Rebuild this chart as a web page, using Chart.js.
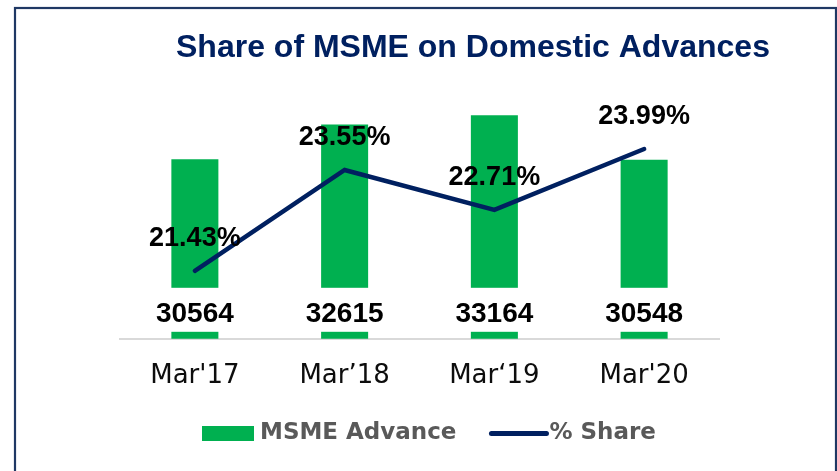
<!DOCTYPE html>
<html>
<head>
<meta charset="utf-8">
<title>Share of MSME on Domestic Advances</title>
<script src="https://cdn.jsdelivr.net/npm/chart.js"></script>
<style>
  html, body { margin: 0; padding: 0; background: #ffffff; }
  .chart-container { position: relative; width: 837px; height: 471px; }
</style>
</head>
<body>
<div class="chart-container">
  <canvas id="chart"></canvas>
</div>
<script>
// chart data
const categories = ["Mar'17", 'Mar\u201918', 'Mar\u201819', "Mar'20"];
const msmeAdvance = [30564, 32615, 33164, 30548];
const shareLabels = ['21.43%', '23.55%', '22.71%', '23.99%'];
const sharePct = [21.43, 23.55, 22.71, 23.99];

const GREEN = '#00B050';
const NAVY = '#002060';

// frame, title and legend drawn around the chart
const decorPlugin = {
  id: 'decor',
  beforeDraw(chart) {
    const ctx = chart.ctx;
    ctx.save();
    ctx.fillStyle = '#ffffff';
    ctx.fillRect(0, 0, chart.width, chart.height);
    ctx.strokeStyle = '#1F3864';
    ctx.lineWidth = 2.2;
    ctx.strokeRect(15, 8, 821, 520);
    ctx.restore();
  },
  afterDraw(chart) {
    const ctx = chart.ctx;
    ctx.save();
    // title
    ctx.fillStyle = NAVY;
    ctx.font = 'bold 32px "Liberation Sans"';
    ctx.textAlign = 'left';
    ctx.textBaseline = 'alphabetic';
    ctx.fillText('Share of MSME on Domestic Advances', 176, 57);

    // legend
    const ly = 433.5;
    ctx.font = 'bold 23px "DejaVu Sans"';
    ctx.textBaseline = 'middle';
    ctx.fillStyle = GREEN;
    let x = 202;
    ctx.fillRect(x, ly - 7.5, 52, 15);
    x += 58;
    ctx.fillStyle = '#595959';
    ctx.fillText('MSME Advance', x, ly);
    x += ctx.measureText('MSME Advance').width + 35;
    ctx.strokeStyle = NAVY;
    ctx.lineWidth = 5;
    ctx.lineCap = 'round';
    ctx.beginPath();
    ctx.moveTo(x, ly);
    ctx.lineTo(x + 55, ly);
    ctx.stroke();
    x += 58;
    ctx.fillText('% Share', x, ly);
    ctx.restore();
  }
};

// value labels on bars and points
const labelPlugin = {
  id: 'valueLabels',
  afterDatasetsDraw(chart) {
    const ctx = chart.ctx;
    const axisY = chart.scales.x.top;
    ctx.save();
    const bars = chart.getDatasetMeta(0).data;
    bars.forEach((bar, i) => {
      ctx.fillStyle = '#ffffff';
      ctx.fillRect(bar.x - bar.width / 2 - 1, axisY - 51, bar.width + 2, 44);
      ctx.fillStyle = '#000000';
      ctx.font = 'bold 28px "Liberation Sans"';
      ctx.textAlign = 'center';
      ctx.textBaseline = 'alphabetic';
      ctx.fillText(String(msmeAdvance[i]), bar.x, axisY - 17);
    });
    const pts = chart.getDatasetMeta(1).data;
    pts.forEach((pt, i) => {
      ctx.fillStyle = '#000000';
      ctx.font = 'bold 27px "Liberation Sans"';
      ctx.textAlign = 'center';
      ctx.textBaseline = 'alphabetic';
      ctx.fillText(shareLabels[i], pt.x, pt.y - 25);
    });
    ctx.restore();
  }
};

const ctx = document.getElementById('chart').getContext('2d');
const chart = new Chart(ctx, {
  type: 'bar',
  data: {
    labels: categories,
    datasets: [
      {
        type: 'bar',
        label: 'MSME Advance',
        data: msmeAdvance,
        backgroundColor: GREEN,
        borderWidth: 0,
        barPercentage: 0.314,
        categoryPercentage: 1,
        yAxisID: 'y',
        order: 2
      },
      {
        type: 'line',
        label: '% Share',
        data: sharePct,
        borderColor: NAVY,
        borderWidth: 4.5,
        borderCapStyle: 'round',
        pointRadius: 0,
        tension: 0,
        yAxisID: 'y1',
        order: 1
      }
    ]
  },
  options: {
    responsive: true,
    maintainAspectRatio: false,
    animation: false,
    layout: {
      padding: { left: 120, right: 118, top: 101, bottom: 57 }
    },
    plugins: {
      legend: { display: false },
      title: { display: false },
      tooltip: { enabled: false }
    },
    scales: {
      x: {
        grid: { display: false, drawTicks: false },
        border: { display: true, color: '#D9D9D9', width: 2 },
        ticks: {
          color: '#0D0D0D',
          padding: 22,
          font: { family: '"DejaVu Sans"', size: 26 }
        }
      },
      y: {
        display: false,
        min: 20000,
        max: 34000
      },
      y1: {
        display: false,
        min: 20,
        max: 25
      }
    }
  },
  plugins: [decorPlugin, labelPlugin]
});
</script>
</body>
</html>
